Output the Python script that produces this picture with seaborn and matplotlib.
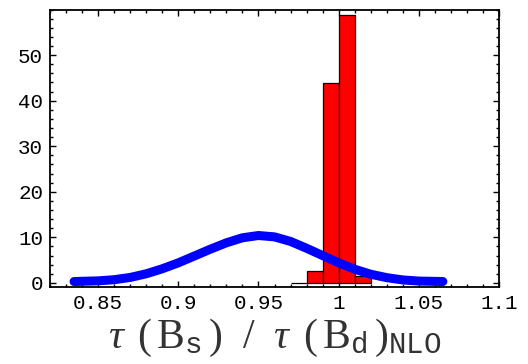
import matplotlib
matplotlib.use("Agg")
import matplotlib.pyplot as plt
import seaborn as sns
import numpy as np
import pandas as pd
from matplotlib.ticker import MultipleLocator, FixedLocator

# Histogram (red)
bin_edges = [0.97, 0.98, 0.99, 1.00, 1.01, 1.02]
bin_heights = [0.05, 2.6, 43.8, 58.8, 1.6]

# Blue curve
curve_x = [0.835, 0.85, 0.86, 0.87, 0.88, 0.89, 0.90, 0.91, 0.92, 0.93, 0.94,
           0.95, 0.96, 0.97, 0.98, 0.99, 1.00, 1.01, 1.02, 1.03, 1.04, 1.05, 1.065]
curve_y = [0.3, 0.45, 0.7, 1.2, 2.0, 3.1, 4.4, 5.9, 7.4, 8.8, 9.9,
           10.4, 10.1, 9.1, 7.6, 6.0, 4.4, 3.0, 1.9, 1.15, 0.65, 0.4, 0.3]

x_ticks = [0.85, 0.9, 0.95, 1.0, 1.05, 1.1]
x_tick_labels = ["0.85", "0.9", "0.95", "1", "1.05", "1.1"]
y_ticks = [0, 10, 20, 30, 40, 50]
y_tick_labels = ["0", "10", "20", "30", "40", "50"]

sns.set_style("ticks")
plt.rcParams["mathtext.fontset"] = "custom"
plt.rcParams["mathtext.rm"] = "Liberation Serif"
plt.rcParams["mathtext.it"] = "Liberation Serif:italic"
plt.rcParams["mathtext.tt"] = "Liberation Mono"
plt.rcParams["mathtext.bf"] = "Liberation Mono:bold"

fig = plt.figure(figsize=(5.28, 3.64), dpi=100)
ax = fig.add_axes([50/528, 1-287/364, 449/528, (287-9.5)/364])

centers = [(a + b) / 2 for a, b in zip(bin_edges[:-1], bin_edges[1:])]
hist_df = pd.DataFrame({"x": centers, "w": bin_heights})
sns.histplot(data=hist_df, x="x", weights="w", bins=bin_edges, ax=ax,
             color="#ff0000", edgecolor="black", linewidth=0.9, alpha=1.0, zorder=2)

curve_df = pd.DataFrame({"x": curve_x, "y": curve_y})
sns.lineplot(data=curve_df, x="x", y="y", ax=ax, color="#0000ff", linewidth=6.5,
             solid_capstyle="round", solid_joinstyle="round", zorder=3)

ax.set_xlim(0.82, 1.1)
ax.set_ylim(-0.9, 60)
ax.xaxis.set_major_locator(FixedLocator(x_ticks))
ax.set_xticklabels(x_tick_labels)
ax.xaxis.set_minor_locator(MultipleLocator(0.01))
ax.yaxis.set_major_locator(FixedLocator(y_ticks))
ax.set_yticklabels(y_tick_labels)
ax.yaxis.set_minor_locator(MultipleLocator(2))

for lab in ax.get_xticklabels() + ax.get_yticklabels():
    lab.set_fontfamily("Liberation Mono")
    lab.set_fontsize(15)
    lab.set_color("#333333")

ax.tick_params(which="both", direction="in", top=True, right=True, colors="black")
ax.tick_params(which="major", length=4, width=1.0, pad=5)
ax.tick_params(which="minor", length=2.5, width=1.0)
for s in ax.spines.values():
    s.set_linewidth(1.3)
    s.set_color("black")

ax.set_ylabel("")
ax.set_xlabel(r"$\tau\,\ (\,\mathrm{B}_{\mathtt{s}}\,)\ \ /\ \ \tau\,\ (\,\mathrm{B}_{\mathtt{d}}\,)_{\mathtt{NLO}}$",
              fontsize=30, labelpad=3, color="#333333")

fig.savefig("out.png", dpi=100, facecolor="white")
